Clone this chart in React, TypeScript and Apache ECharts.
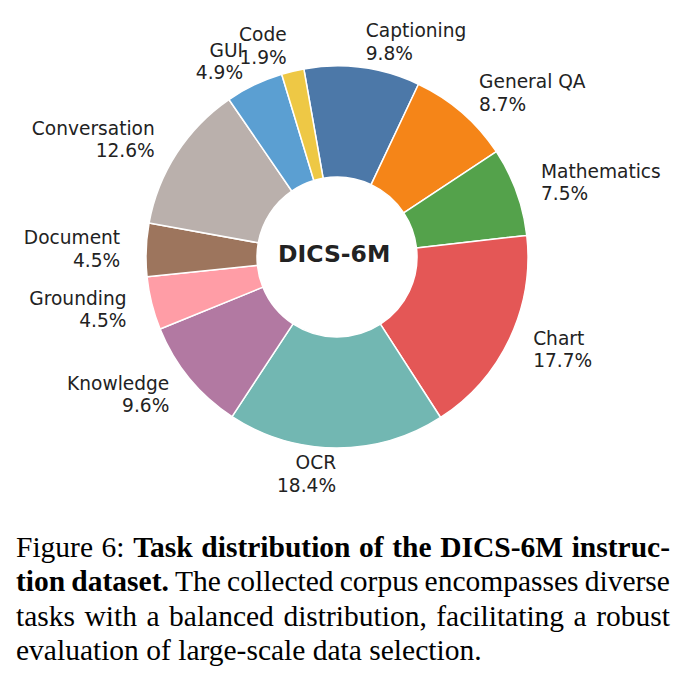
import { useEffect, useRef } from 'react'
import * as echarts from 'echarts'

const categories = [
  'Captioning',
  'General QA',
  'Mathematics',
  'Chart',
  'OCR',
  'Knowledge',
  'Grounding',
  'Document',
  'Conversation',
  'GUI',
  'Code',
]
const shares = [9.8, 8.7, 7.5, 17.7, 18.4, 9.6, 4.5, 4.5, 12.6, 4.9, 1.9]
const sliceColors = [
  '#4c78a8',
  '#f58518',
  '#54a24b',
  '#e45756',
  '#72b7b2',
  '#b279a2',
  '#ff9da6',
  '#9d755d',
  '#bab0ac',
  '#5b9fd2',
  '#eec845',
]
const centerTitle = 'DICS-6M'

// caption lines, as in the paper (justified except the last one)
const captionLines = [
  { parts: [{ t: 'Figure 6:', b: false }, { t: 'Task distribution of the DICS-6M instruc-', b: true }], justify: true },
  { parts: [{ t: 'tion dataset.', b: true }, { t: 'The collected corpus encompasses diverse', b: false }], justify: true },
  { parts: [{ t: 'tasks with a balanced distribution, facilitating a robust', b: false }], justify: true },
  { parts: [{ t: 'evaluation of large-scale data selection.', b: false }], justify: false },
]

function DonutChart() {
  const chartRef = useRef<HTMLDivElement>(null)

  useEffect(() => {
    if (!chartRef.current) return
    const chart = echarts.init(chartRef.current, undefined, { renderer: 'svg' })

    const option = {
      animation: false,
      graphic: [
        {
          type: 'text',
          left: 338 - 60,
          top: 257 - 15,
          style: {
            text: centerTitle,
            width: 120,
            height: 30,
            align: 'center',
            verticalAlign: 'middle',
            x: 60,
            y: 15,
            fill: '#222',
            font: 'bold 23.5px "DejaVu Sans"',
          },
          z: 10,
        },
      ],
      series: [
        {
          type: 'pie',
          center: [337, 257],
          radius: [80, 191],
          startAngle: 100,
          clockwise: true,
          avoidLabelOverlap: false,
          labelLayout: { hideOverlap: false },
          itemStyle: {
            borderColor: '#ffffff',
            borderWidth: 1.5,
          },
          label: {
            show: true,
            position: 'outside',
            distanceToLabelLine: 0,
            color: '#222',
            fontFamily: 'DejaVu Sans',
            fontSize: 18.6,
            lineHeight: 22.3,
            formatter: (p: any) => `${p.name}\n${Number(p.value).toFixed(1)}%`,
          },
          labelLine: {
            show: false,
            length: 26,
            length2: 0,
          },
          emphasis: { disabled: true },
          data: categories.map((name, i) => ({
            name,
            value: shares[i],
            itemStyle: { color: sliceColors[i] },
          })),
        },
      ],
    }

    chart.setOption(option)
    return () => {
      chart.dispose()
    }
  }, [])

  return <div ref={chartRef} style={{ width: 691, height: 520 }} />
}

function Caption() {
  return (
    <div
      style={{
        position: 'absolute',
        left: 16,
        top: 530,
        width: 654,
        fontFamily: '"Liberation Serif", "Times New Roman", serif',
        fontSize: 29.5,
        lineHeight: '34.4px',
        color: '#000',
      }}
    >
      {captionLines.map((line, li) => {
        if (!line.justify) {
          return (
            <div key={li} style={{ whiteSpace: 'nowrap' }}>
              {line.parts.map((p, pi) => (
                <span key={pi} style={{ fontWeight: p.b ? 'bold' : 'normal' }}>
                  {(pi > 0 ? ' ' : '') + p.t}
                </span>
              ))}
            </div>
          )
        }
        const words: { t: string; b: boolean }[] = []
        line.parts.forEach(p => p.t.split(' ').forEach(w => words.push({ t: w, b: p.b })))
        return (
          <div key={li} style={{ display: 'flex', justifyContent: 'space-between', whiteSpace: 'nowrap' }}>
            {words.map((w, wi) => (
              <span key={wi} style={{ fontWeight: w.b ? 'bold' : 'normal' }}>
                {w.t}
              </span>
            ))}
          </div>
        )
      })}
    </div>
  )
}

export default function App() {
  return (
    <div
      style={{
        position: 'absolute',
        left: 0,
        top: 0,
        width: 691,
        height: 688,
        background: '#ffffff',
        overflow: 'hidden',
      }}
    >
      <DonutChart />
      <Caption />
    </div>
  )
}
